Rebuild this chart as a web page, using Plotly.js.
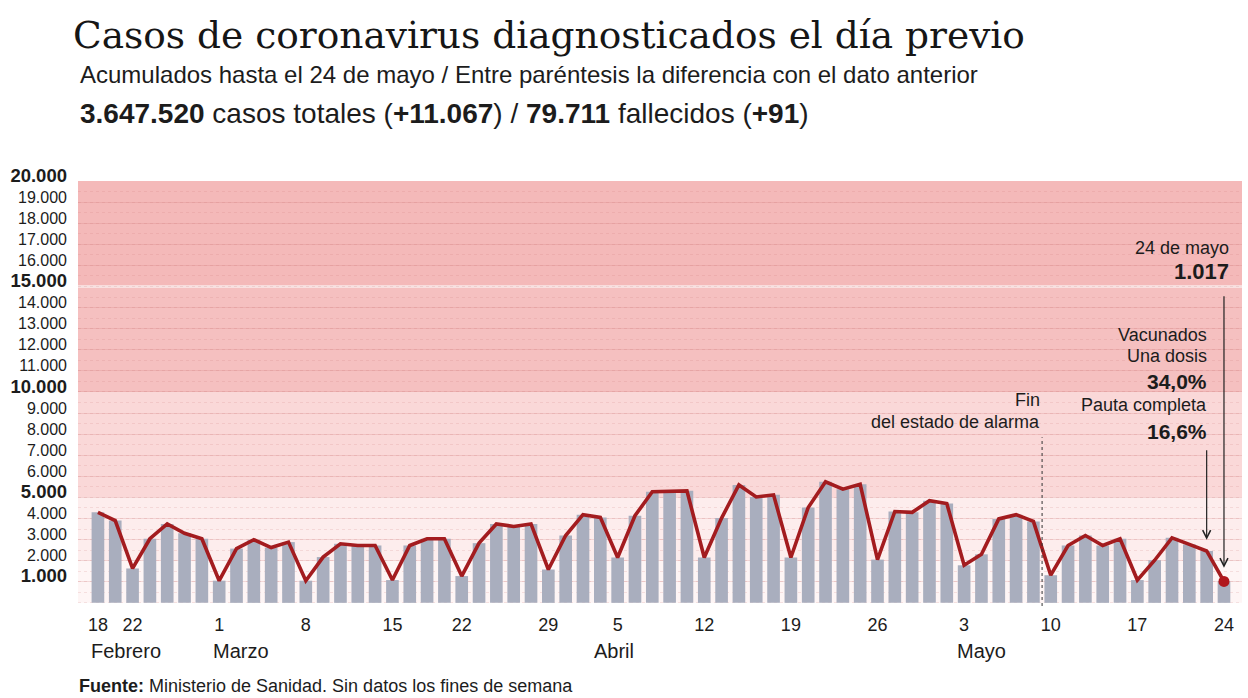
<!DOCTYPE html>
<html>
<head>
<meta charset="utf-8">
<script src="https://cdn.plot.ly/plotly-3.0.1.min.js"></script>
<style>
  html, body { margin: 0; padding: 0; background: #ffffff; }
  #chart { width: 1248px; height: 698px; }
</style>
</head>
<body>
<div id="chart"></div>
<script>
// ---- Data ----
const dates = ['18 feb','19 feb','22 feb','23 feb','24 feb','25 feb','26 feb',
  '1 mar','2 mar','3 mar','4 mar','5 mar','8 mar','9 mar','10 mar','11 mar','12 mar',
  '15 mar','16 mar','17 mar','18 mar','22 mar','23 mar','24 mar','25 mar','26 mar',
  '29 mar','30 mar','31 mar','1 abr','5 abr','6 abr','7 abr','8 abr','9 abr',
  '12 abr','13 abr','14 abr','15 abr','16 abr','19 abr','20 abr','21 abr','22 abr','23 abr',
  '26 abr','27 abr','28 abr','29 abr','30 abr','3 may','4 may','5 may','6 may','7 may',
  '10 may','11 may','12 may','13 may','14 may','17 may','18 may','19 may','20 may','21 may','24 may'];

const cases = [4290, 3900, 1630, 3040, 3740, 3300, 3040,
  1050, 2570, 2990, 2620, 2880, 1050, 2170, 2800, 2720, 2720,
  1080, 2720, 3040, 3040, 1270, 2830, 3740, 3620, 3740,
  1580, 3190, 4180, 4050, 2150, 4130, 5270, 5270, 5310,
  2150, 4020, 5590, 5020, 5120, 2150, 4520, 5740, 5390, 5620,
  2050, 4330, 4290, 4840, 4710, 1780, 2300, 3980, 4180, 3860,
  1310, 2720, 3190, 2720, 3040, 1080, 2020, 3080, 2770, 2460, 1017];

const xTickVals = ['18 feb','22 feb','1 mar','8 mar','15 mar','22 mar','29 mar','5 abr',
  '12 abr','19 abr','26 abr','3 may','10 may','17 may','24 may'];
const xTickText = ['18','22','1','8','15','22','29','5','12','19','26','3','10','17','24'];

const months = ['Febrero','Marzo','Abril','Mayo'];
const monthAnchors = ['18 feb','1 mar','5 abr','3 may'];

const yTickVals = [1000,2000,3000,4000,5000,6000,7000,8000,9000,10000,
  11000,12000,13000,14000,15000,16000,17000,18000,19000,20000];
const yBold = [1000, 5000, 10000, 15000, 20000];

const bands = [
  {from: 15000, to: 20000, color: '#f4b9b9'},
  {from: 10000, to: 15000, color: '#f5c0c0'},
  {from: 5000,  to: 10000, color: '#fad8d8'},
  {from: 0,     to: 5000,  color: '#fdeded'}
];

const lastLabel = '24 de mayo';
const lastValue = '1.017';
const vacText = ['Vacunados', 'Una dosis'];
const vacOne = '34,0%';
const vacFullLabel = 'Pauta completa';
const vacFull = '16,6%';
const alarmText = ['Fin', 'del estado de alarma'];
const alarmBetween = ['7 may', '10 may'];

// ---- helpers ----
function fmt(v) { return String(v).replace(/\B(?=(\d{3})+(?!\d))/g, '.'); }
const yTickText = yTickVals.map(v => yBold.includes(v)
  ? '<span style="font-size:18.5px"><b>' + fmt(v) + '</b></span>'
  : fmt(v));

const PL = 78, PR = 1242, PT = 181, PB = 606;
const X = px => (px - PL) / (PR - PL);
const Y = py => (PB - py) / (PB - PT);

const FONT = '"Liberation Sans", Arial, sans-serif';
const INK = '#1c1c1c';

const bars = {
  type: 'bar', x: dates, y: cases,
  marker: {color: '#a9aebe', line: {width: 0}},
  hoverinfo: 'skip'
};
const line = {
  type: 'scatter', mode: 'lines', x: dates, y: cases,
  line: {color: '#a31c1f', width: 3.6},
  hoverinfo: 'skip'
};
const lastPt = {
  type: 'scatter', mode: 'markers',
  x: [dates[dates.length - 1]], y: [cases[cases.length - 1]],
  marker: {color: '#b0161c', size: 11},
  hoverinfo: 'skip'
};

const shapes = bands.map(b => ({
  type: 'rect', xref: 'paper', yref: 'y', layer: 'below',
  x0: 0, x1: 1, y0: b.from, y1: b.to, fillcolor: b.color, line: {width: 0}
}));
// lighter fade in the lowest band
shapes.push({type: 'rect', xref: 'paper', yref: 'y', layer: 'below',
  x0: 0, x1: 1, y0: -150, y1: 2000, fillcolor: 'rgba(255,255,255,0.45)', line: {width: 0}});
// white separator at 15.000
shapes.push({type: 'line', xref: 'paper', yref: 'y', layer: 'between',
  x0: 0, x1: 1, y0: 15000, y1: 15000, line: {color: '#ffffff', width: 2}});
// dotted end-of-alarm line
const ia = dates.indexOf(alarmBetween[0]);
shapes.push({type: 'line', xref: 'x', yref: 'y', layer: 'above',
  x0: ia + 0.5, x1: ia + 0.5, y0: -150, y1: 7850,
  line: {color: '#333333', width: 1, dash: 'dot'}});

const annotations = [];
function txt(text, px, py, size, anchor, extra) {
  annotations.push(Object.assign({
    xref: 'paper', yref: 'paper', x: X(px), y: Y(py), text: text,
    showarrow: false, xanchor: anchor, yanchor: 'middle',
    font: {family: FONT, size: size, color: INK}
  }, extra || {}));
}
// headings
txt('Casos de coronavirus diagnosticados el día previo', 71, 35, 38, 'left',
  {font: {family: '"DejaVu Serif", "Liberation Serif", serif', size: 37.5, color: '#161616'}});
txt('Acumulados hasta el 24 de mayo / Entre paréntesis la diferencia con el dato anterior', 78, 74, 24, 'left');
txt('<b>3.647.520</b> casos totales (<b>+11.067</b>) / <b>79.711</b> fallecidos (<b>+91</b>)', 78, 114, 28, 'left');
txt('<b>Fuente:</b> Ministerio de Sanidad. Sin datos los fines de semana', 77, 686, 18, 'left');
// right side notes
txt(lastLabel, 1231, 248, 18, 'right');
txt('<b>' + lastValue + '</b>', 1231, 271, 22, 'right');
txt(vacText[0], 1209, 335, 18, 'right');
txt(vacText[1], 1209, 356, 18, 'right');
txt('<b>' + vacOne + '</b>', 1209, 381, 21, 'right');
txt(vacFullLabel, 1209, 405, 18, 'right');
txt('<b>' + vacFull + '</b>', 1209, 431, 21, 'right');
txt(alarmText[0], 1042, 400, 18, 'right');
txt(alarmText[1], 1042, 422, 18, 'right');

// months under the ticks
const monthShift = [-9, -8, -26, -9];
months.forEach((m, i) => annotations.push({
  xref: 'x', yref: 'paper', x: monthAnchors[i], y: Y(651), text: m,
  showarrow: false, xanchor: 'left', yanchor: 'middle', xshift: monthShift[i],
  font: {family: FONT, size: 20, color: INK}
}));

// arrows
annotations.push({xref: 'x', yref: 'y', x: dates[65], y: 1660, ax: 0, ay: -273,
  text: '', showarrow: true, arrowhead: 5, arrowsize: 1.3, arrowwidth: 1.2,
  arrowcolor: '#222222', standoff: 0});
annotations.push({xref: 'x', yref: 'y', x: dates[64], y: 2990, ax: 0, ay: -91,
  text: '', showarrow: true, arrowhead: 5, arrowsize: 1.3, arrowwidth: 1.2,
  arrowcolor: '#222222', standoff: 0});

const layout = {
  width: 1248, height: 698,
  margin: {l: PL, r: 1248 - PR, t: PT, b: 698 - PB, pad: 0},
  paper_bgcolor: '#ffffff', plot_bgcolor: 'rgba(0,0,0,0)',
  showlegend: false, bargap: 0.27,
  font: {family: FONT, color: INK},
  xaxis: {
    type: 'category', range: [-1.15, 66.04], showgrid: false, zeroline: false,
    showline: false, ticks: '', tickvals: xTickVals, ticktext: xTickText,
    tickfont: {family: FONT, size: 18, color: INK}, ticklabelstandoff: 6,
    fixedrange: true
  },
  yaxis: {
    range: [-150, 20000], tickvals: yTickVals, ticktext: yTickText,
    tickfont: {family: FONT, size: 16, color: INK},
    showgrid: true, gridcolor: 'rgba(205,120,120,0.22)', gridwidth: 1,
    zeroline: false, showline: false, ticks: '',
    ticklabelshift: -5, ticklabelstandoff: 10,
    minor: {dtick: 500, tick0: 0, showgrid: true, gridcolor: 'rgba(205,120,120,0.18)',
      griddash: 'dot', gridwidth: 1, ticks: ''},
    fixedrange: true
  },
  shapes: shapes,
  annotations: annotations
};

Plotly.newPlot('chart', [bars, line, lastPt], layout, {staticPlot: true, displayModeBar: false});
</script>
</body>
</html>
